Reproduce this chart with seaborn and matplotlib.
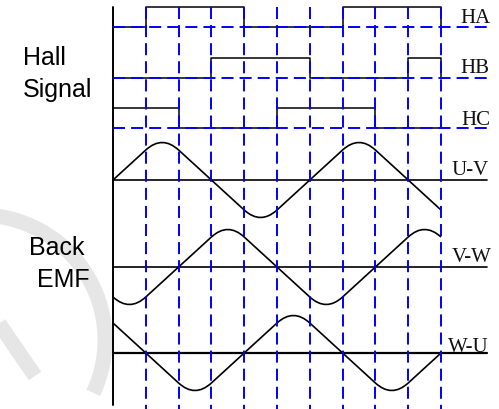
import numpy as np
import pandas as pd
import matplotlib
matplotlib.use('Agg')
import matplotlib.pyplot as plt
import seaborn as sns
from matplotlib.path import Path
from matplotlib.patches import PathPatch, Arc

# Hall sensor states, one per 60 degree sector (0..600 deg)
sector_edges = [0, 60, 120, 180, 240, 300, 360, 420, 480, 540, 600]
ha_state = [0, 1, 1, 1, 0, 0, 0, 1, 1, 1]
hb_state = [0, 0, 0, 1, 1, 1, 0, 0, 0, 1]
hc_state = [1, 1, 0, 0, 0, 1, 1, 1, 0, 0]
hall_names = ['HA', 'HB', 'HC']

# back EMF knots (electrical degrees, level); |level| 1.5 = rounding control point
uv_angle = [0, 60, 90, 120, 240, 270, 300, 420, 450, 480, 600]
uv_level = [0, 1, 1.5, 1, -1, -1.5, -1, 1, 1.5, 1, -1]
vw_angle = [0, 30, 60, 180, 210, 240, 360, 390, 420, 540, 570, 600]
vw_level = [-1, -1.5, -1, 1, 1.5, 1, -1, -1.5, -1, 1, 1.5, 1]
wu_angle = [0, 120, 150, 180, 300, 330, 360, 480, 510, 540, 600]
wu_level = [1, -1, -1.5, -1, 1, 1.5, 1, -1, -1.5, -1, 0]
emf_names = ['U-V', 'V-W', 'W-U']

# layout (pixels from top of the 499x409 picture)
W, H = 499, 409
X0 = 113
PX = 328 / 600.0
hall_base = [27, 78, 128]
hall_high = 20
emf_base = [180, 267, 353]
emf_scale = 30
blue = '#0000ff'
dash = (0, (6.2, 3.1))

sns.set_theme(style='white')
plt.rcParams['font.family'] = ['Liberation Sans', 'DejaVu Sans']

fig = plt.figure(figsize=(W / 100, H / 100), dpi=100)

# faint watermark behind the chart
ax_bg = fig.add_axes([0, 0, 1, 1])
ax_bg.set_xlim(0, W)
ax_bg.set_ylim(H, 0)
ax_bg.axis('off')
ax_bg.add_patch(Arc((-20, 340), 250, 250, theta1=-90, theta2=25,
                    lw=10.8, color='#e6e6e6'))
ax_bg.plot([-2, 35], [322, 376], color='#e6e6e6', lw=10.8, solid_capstyle='butt')

ax = fig.add_axes([0, 0, 1, 1])
ax.patch.set_alpha(0)

# hall signals
for state, base in zip([ha_state, hb_state, hc_state], hall_base):
    xs = sector_edges + [600]
    ys = state + [state[-1], 0]
    df = pd.DataFrame({'deg': xs, 'y': base - np.array(ys) * hall_high})
    sns.lineplot(data=df, x='deg', y='y', drawstyle='steps-post', color='black',
                 lw=1.1, estimator=None, sort=False, ax=ax, zorder=2)

# back EMF baselines and curves
for i, (angle, level) in enumerate(zip([uv_angle, vw_angle, wu_angle],
                                       [uv_level, vw_level, wu_level])):
    base = emf_base[i]
    ax.plot([0, 684], [base, base], color='black', lw=1.6 if i == 2 else 1.2, zorder=2)
    verts = [(a, base - l * emf_scale) for a, l in zip(angle, level)]
    codes = [Path.MOVETO]
    j = 1
    while j < len(level):
        if abs(level[j]) > 1.2:
            codes += [Path.CURVE3, Path.CURVE3]
            j += 2
        else:
            codes.append(Path.LINETO)
            j += 1
    ax.add_patch(PathPatch(Path(verts, codes), fill=False, ec='black', lw=1.2, zorder=2))

# time axis and blue grid
ax.plot([0, 0], [7, 405], color='black', lw=1.4, zorder=2)
ax.vlines(sector_edges[1:], 7, H, colors=blue, lw=1.4, linestyles=dash, zorder=3)
for base in hall_base:
    ax.plot([0, 690], [base, base], color=blue, lw=1.4, linestyle=dash, zorder=3)

ax.set_xlim(-X0 / PX, (W - X0) / PX)
ax.set_ylim(H, 0)
ax.axis('off')

# row labels
serif = ['Liberation Serif', 'DejaVu Serif']
for name, x, y in zip(hall_names + emf_names,
                      [460, 460, 461, 452, 452, 448],
                      [23, 73, 125, 175, 262, 352]):
    fig.text(x / W, 1 - y / H, name, family=serif, fontsize=15,
             ha='left', va='baseline', color='#111111')

for txt, x, y in [('Hall', 23, 65), ('Signal', 23, 97), ('Back', 29, 255), ('EMF', 37, 287)]:
    fig.text(x / W, 1 - y / H, txt, fontsize=18, ha='left', va='baseline', color='black')

fig.savefig('out.png', dpi=100)
